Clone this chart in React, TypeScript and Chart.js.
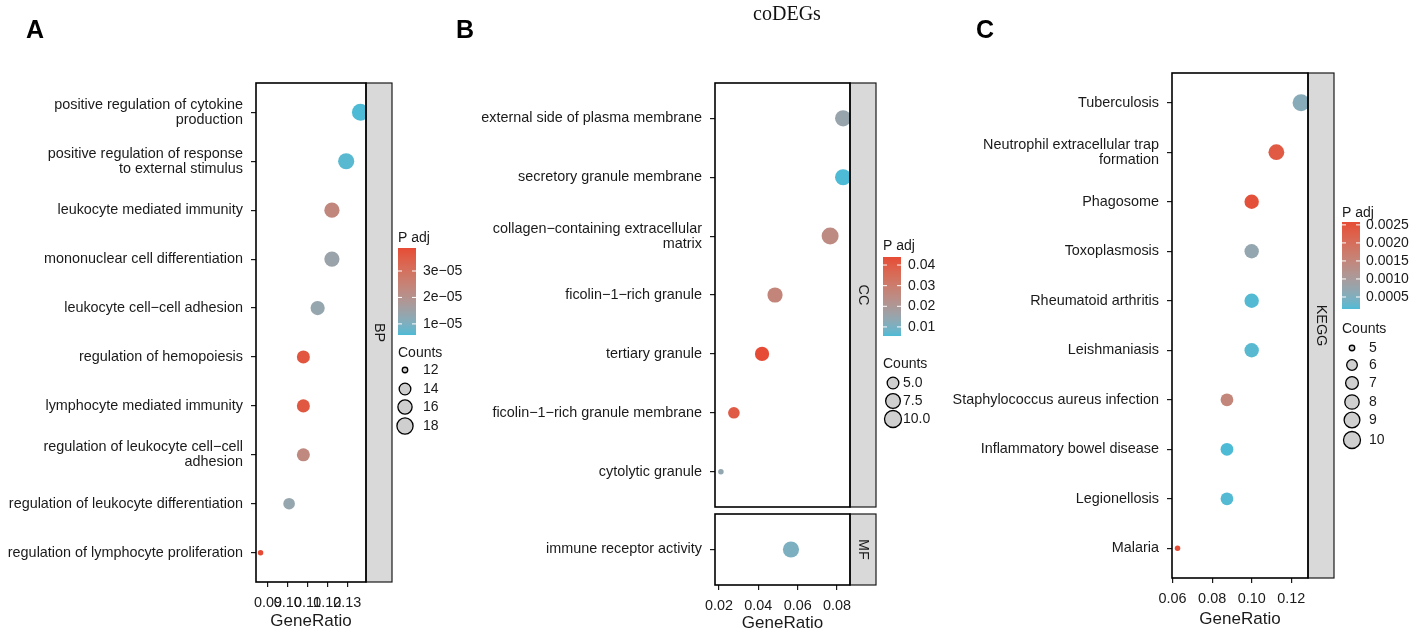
import React, { useEffect, useRef } from "react";
import { Chart, registerables } from "chart.js";
Chart.register(...registerables);

// ---------------- DATA ----------------
const bpTerms = [
  "positive regulation of cytokine\nproduction",
  "positive regulation of response\nto external stimulus",
  "leukocyte mediated immunity",
  "mononuclear cell differentiation",
  "leukocyte cell−cell adhesion",
  "regulation of hemopoiesis",
  "lymphocyte mediated immunity",
  "regulation of leukocyte cell−cell\nadhesion",
  "regulation of leukocyte differentiation",
  "regulation of lymphocyte proliferation",
];
const bpGeneRatio = [0.1367, 0.1295, 0.1223, 0.1223, 0.1151, 0.1079, 0.1079, 0.1079, 0.1007, 0.0863];
const bpCounts = [19, 18, 17, 17, 16, 15, 15, 15, 14, 12];
const bpPadj = [5.8e-6, 6.6e-6, 2.35e-5, 1.45e-5, 1.35e-5, 3.65e-5, 3.6e-5, 2.3e-5, 1.35e-5, 3.87e-5];
const bpXTicks = [0.09, 0.1, 0.11, 0.12, 0.13];
const bpPadjBreaks = [1e-5, 2e-5, 3e-5];
const bpPadjLabels = ["1e−05", "2e−05", "3e−05"];
const bpCountBreaks = [12, 14, 16, 18];
const bpCountLabels = ["12", "14", "16", "18"];

const ccTerms = [
  "external side of plasma membrane",
  "secretory granule membrane",
  "collagen−containing extracellular\nmatrix",
  "ficolin−1−rich granule",
  "tertiary granule",
  "ficolin−1−rich granule membrane",
  "cytolytic granule",
];
const ccGeneRatio = [0.0831, 0.0831, 0.0765, 0.0485, 0.0419, 0.0276, 0.021];
const ccCounts = [9, 9, 10, 8, 7, 5, 3];
const ccPadj = [0.015, 0.0056, 0.025, 0.027, 0.0439, 0.04, 0.014];
const mfTerms = ["immune receptor activity"];
const mfGeneRatio = [0.0566];
const mfCounts = [9];
const mfPadj = [0.0105];
const goXTicks = [0.02, 0.04, 0.06, 0.08];
const goPadjBreaks = [0.01, 0.02, 0.03, 0.04];
const goPadjLabels = ["0.01", "0.02", "0.03", "0.04"];
const goCountBreaks = [5, 7.5, 10];
const goCountLabels = ["5.0", "7.5", "10.0"];

const keggTerms = [
  "Tuberculosis",
  "Neutrophil extracellular trap\nformation",
  "Phagosome",
  "Toxoplasmosis",
  "Rheumatoid arthritis",
  "Leishmaniasis",
  "Staphylococcus aureus infection",
  "Inflammatory bowel disease",
  "Legionellosis",
  "Malaria",
];
const keggGeneRatio = [0.125, 0.1125, 0.1, 0.1, 0.1, 0.1, 0.0875, 0.0875, 0.0875, 0.0625];
const keggCounts = [10, 9, 8, 8, 8, 8, 7, 7, 7, 5];
const keggPadj = [0.00058, 0.00235, 0.0025, 0.00072, 0.0002, 0.00022, 0.0015, 0.000167, 0.0002, 0.00258];
const keggXTicks = [0.06, 0.08, 0.1, 0.12];
const keggPadjBreaks = [0.0005, 0.001, 0.0015, 0.002, 0.0025];
const keggPadjLabels = ["0.0005", "0.0010", "0.0015", "0.0020", "0.0025"];
const keggCountBreaks = [5, 6, 7, 8, 9, 10];
const keggCountLabels = ["5", "6", "7", "8", "9", "10"];

// ---------------- HELPERS ----------------
const W = 1417;
const H = 634;
const FONT = "'Liberation Sans', Arial, Helvetica, sans-serif";
const TEXT = "#1a1a1a";
const LOW = "#4DBBD5";
const HIGH = "#E64B35";
const AXIS_FS = 14.4;
const LEG_FS = 14;

function hexToLab(hex: string): number[] {
  const v = [1, 3, 5].map((i) => parseInt(hex.slice(i, i + 2), 16) / 255);
  const lin = v.map((c) => (c <= 0.04045 ? c / 12.92 : Math.pow((c + 0.055) / 1.055, 2.4)));
  const [r, g, b] = lin;
  const x = (0.4124564 * r + 0.3575761 * g + 0.1804375 * b) / 0.95047;
  const y = 0.2126729 * r + 0.7151522 * g + 0.072175 * b;
  const z = (0.0193339 * r + 0.119192 * g + 0.9503041 * b) / 1.08883;
  const f = (t: number) => (t > 0.008856 ? Math.cbrt(t) : 7.787 * t + 16 / 116);
  const fx = f(x), fy = f(y), fz = f(z);
  return [116 * fy - 16, 500 * (fx - fy), 200 * (fy - fz)];
}
function labToRgb(L: number, a: number, bb: number): string {
  const fy = (L + 16) / 116;
  const fx = fy + a / 500;
  const fz = fy - bb / 200;
  const inv = (t: number) => (t * t * t > 0.008856 ? t * t * t : (t - 16 / 116) / 7.787);
  const x = inv(fx) * 0.95047, y = inv(fy), z = inv(fz) * 1.08883;
  const r = 3.2404542 * x - 1.5371385 * y - 0.4985314 * z;
  const g = -0.969266 * x + 1.8760108 * y + 0.041556 * z;
  const b = 0.0556434 * x - 0.2040259 * y + 1.0572252 * z;
  const gam = (c: number) => {
    const v = c <= 0.0031308 ? 12.92 * c : 1.055 * Math.pow(c, 1 / 2.4) - 0.055;
    return Math.round(Math.max(0, Math.min(1, v)) * 255);
  };
  return `rgb(${gam(r)},${gam(g)},${gam(b)})`;
}
const LAB_LOW = hexToLab(LOW);
const LAB_HIGH = hexToLab(HIGH);
function gradColor(t: number): string {
  const u = Math.max(0, Math.min(1, t));
  return labToRgb(
    LAB_LOW[0] + (LAB_HIGH[0] - LAB_LOW[0]) * u,
    LAB_LOW[1] + (LAB_HIGH[1] - LAB_LOW[1]) * u,
    LAB_LOW[2] + (LAB_HIGH[2] - LAB_LOW[2]) * u
  );
}
function radius(c: number, lim: number[]): number {
  const t = Math.max(0, (c - lim[0]) / (lim[1] - lim[0]));
  const size = 1 + 5 * Math.sqrt(t);
  return (2.3 * size + 3.2) / 2;
}

type Legend = {
  x: number;
  titleY: number;
  barTop: number;
  barBottom: number;
  barLabelX: number;
  breaks: number[];
  breakLabels: string[];
  countsY: number;
  keyX: number;
  keyLabelX: number;
  keyYs: number[];
  countBreaks: number[];
  countLabels: string[];
};
type Panel = {
  cats: string[];
  ratio: number[];
  count: number[];
  padj: number[];
  box: { l: number; r: number; t: number; b: number };
  xMin: number;
  xMax: number;
  xTicks: number[];
  showX: boolean;
  xAxisH: number;
  colorLim: number[];
  sizeLim: number[];
  strip: string;
  legend?: Legend;
};

function buildChart(canvas: HTMLCanvasElement, p: Panel): Chart {
  const n = p.cats.length;
  const xh = p.showX ? p.xAxisH : 0;
  const data = p.cats.map((_, i) => ({ x: p.ratio[i], y: i, r: radius(p.count[i], p.sizeLim) }));
  const colors = p.padj.map((v) => gradColor((v - p.colorLim[0]) / (p.colorLim[1] - p.colorLim[0])));
  const decor = {
    id: "decor",
    afterDraw(chart: any) {
      const ctx: CanvasRenderingContext2D = chart.ctx;
      const a = chart.chartArea;
      ctx.save();
      // strip
      const sw = 26;
      ctx.fillStyle = "#D9D9D9";
      ctx.fillRect(a.right, a.top, sw, a.bottom - a.top);
      ctx.strokeStyle = "#1a1a1a";
      ctx.lineWidth = 1.2;
      ctx.strokeRect(a.right, a.top, sw, a.bottom - a.top);
      // panel box
      ctx.lineWidth = 1.6;
      ctx.strokeStyle = "#000";
      ctx.strokeRect(a.left, a.top, a.right - a.left, a.bottom - a.top);
      // strip text
      ctx.save();
      ctx.translate(a.right + sw / 2, (a.top + a.bottom) / 2);
      ctx.rotate(Math.PI / 2);
      ctx.fillStyle = TEXT;
      ctx.font = `${AXIS_FS}px ${FONT}`;
      ctx.textAlign = "center";
      ctx.textBaseline = "middle";
      ctx.fillText(p.strip, 0, 0);
      ctx.restore();
      // legend
      const L = p.legend;
      if (L) {
        ctx.fillStyle = TEXT;
        ctx.font = `${LEG_FS}px ${FONT}`;
        ctx.textAlign = "left";
        ctx.textBaseline = "middle";
        ctx.fillText("P adj", L.x, L.titleY);
        const bw = 18;
        const bh = L.barBottom - L.barTop;
        for (let y = 0; y < bh; y++) {
          ctx.fillStyle = gradColor(1 - (y + 0.5) / bh);
          ctx.fillRect(L.x, L.barTop + y, bw, 1.02);
        }
        ctx.strokeStyle = "#fff";
        ctx.lineWidth = 1;
        L.breaks.forEach((v, i) => {
          const y = L.barBottom - ((v - p.colorLim[0]) / (p.colorLim[1] - p.colorLim[0])) * bh;
          ctx.beginPath();
          ctx.moveTo(L.x, y);
          ctx.lineTo(L.x + 4, y);
          ctx.moveTo(L.x + bw - 4, y);
          ctx.lineTo(L.x + bw, y);
          ctx.stroke();
          ctx.fillStyle = TEXT;
          ctx.fillText(L.breakLabels[i], L.barLabelX, y);
        });
        ctx.fillStyle = TEXT;
        ctx.fillText("Counts", L.x, L.countsY);
        L.countBreaks.forEach((c, i) => {
          const y = L.keyYs[i];
          ctx.beginPath();
          ctx.arc(L.keyX, y, radius(c, p.sizeLim), 0, Math.PI * 2);
          ctx.fillStyle = "#CFCFCF";
          ctx.fill();
          ctx.strokeStyle = "#000";
          ctx.lineWidth = 1.3;
          ctx.stroke();
          ctx.fillStyle = TEXT;
          ctx.fillText(L.countLabels[i], L.keyLabelX, y);
        });
      }
      ctx.restore();
    },
  };
  return new Chart(canvas, {
    type: "bubble",
    data: {
      datasets: [
        {
          data,
          backgroundColor: colors,
          borderWidth: 0,
          hoverRadius: 0,
          clip: 0,
        } as any,
      ],
    },
    options: {
      responsive: false,
      animation: false,
      events: [],
      layout: {
        padding: {
          left: 0,
          right: W - p.box.r,
          top: p.box.t,
          bottom: H - p.box.b - xh,
        },
      },
      plugins: { legend: { display: false }, tooltip: { enabled: false } },
      scales: {
        x: {
          type: "linear",
          display: p.showX,
          min: p.xMin,
          max: p.xMax,
          afterBuildTicks: (s: any) => {
            s.ticks = p.xTicks.map((v) => ({ value: v }));
          },
          afterFit: (s: any) => {
            s.height = xh;
          },
          ticks: {
            autoSkip: false,
            maxRotation: 0,
            padding: 7,
            color: TEXT,
            font: { family: FONT, size: AXIS_FS },
            callback: (v: any) => Number(v).toFixed(2),
          },
          grid: { drawOnChartArea: false, drawTicks: true, tickLength: 5, color: "#1a1a1a", lineWidth: 1.2 },
          border: { display: false },
          title: {
            display: true,
            text: "GeneRatio",
            color: TEXT,
            font: { family: FONT, size: 17 },
            padding: { top: 2, bottom: 0 },
          },
        },
        y: {
          type: "linear",
          reverse: true,
          min: -0.6,
          max: n - 0.4,
          afterBuildTicks: (s: any) => {
            s.ticks = p.cats.map((_, i) => ({ value: i }));
          },
          afterFit: (s: any) => {
            s.width = p.box.l;
          },
          ticks: {
            autoSkip: false,
            padding: 8,
            color: TEXT,
            font: { family: FONT, size: AXIS_FS, lineHeight: 1.05 },
            callback: (v: any) => {
              const t = p.cats[Math.round(Number(v))];
              return t ? t.split("\n") : "";
            },
          },
          grid: { drawOnChartArea: false, drawTicks: true, tickLength: 5, color: "#1a1a1a", lineWidth: 1.2 },
          border: { display: false },
        },
      },
    } as any,
    plugins: [decor as any],
  });
}

function minMax(a: number[]): number[] {
  return [Math.min(...a), Math.max(...a)];
}

export default function App() {
  const r1 = useRef<HTMLCanvasElement>(null);
  const r2 = useRef<HTMLCanvasElement>(null);
  const r3 = useRef<HTMLCanvasElement>(null);
  const r4 = useRef<HTMLCanvasElement>(null);

  useEffect(() => {
    const bpC = minMax(bpPadj);
    const bpS = minMax(bpCounts);
    const goC = minMax([...ccPadj, ...mfPadj]);
    const goS = minMax([...ccCounts, ...mfCounts]);
    const kC = minMax(keggPadj);
    const kS = minMax(keggCounts);

    const panels: Panel[] = [
      {
        cats: bpTerms, ratio: bpGeneRatio, count: bpCounts, padj: bpPadj,
        box: { l: 256, r: 366, t: 83, b: 582 },
        xMin: 0.084, xMax: 0.1395, xTicks: bpXTicks, showX: true, xAxisH: 50,
        colorLim: bpC, sizeLim: bpS, strip: "BP",
        legend: {
          x: 398, titleY: 238, barTop: 248, barBottom: 335, barLabelX: 423,
          breaks: bpPadjBreaks, breakLabels: bpPadjLabels,
          countsY: 353, keyX: 405, keyLabelX: 423, keyYs: [370, 389, 407, 426],
          countBreaks: bpCountBreaks, countLabels: bpCountLabels,
        },
      },
      {
        cats: ccTerms, ratio: ccGeneRatio, count: ccCounts, padj: ccPadj,
        box: { l: 715, r: 850, t: 83, b: 507 },
        xMin: 0.018, xMax: 0.0866, xTicks: goXTicks, showX: false, xAxisH: 0,
        colorLim: goC, sizeLim: goS, strip: "CC",
        legend: {
          x: 883, titleY: 246, barTop: 257, barBottom: 336, barLabelX: 908,
          breaks: goPadjBreaks, breakLabels: goPadjLabels,
          countsY: 364, keyX: 893, keyLabelX: 903, keyYs: [383, 401, 419],
          countBreaks: goCountBreaks, countLabels: goCountLabels,
        },
      },
      {
        cats: mfTerms, ratio: mfGeneRatio, count: mfCounts, padj: mfPadj,
        box: { l: 715, r: 850, t: 514, b: 585 },
        xMin: 0.018, xMax: 0.0866, xTicks: goXTicks, showX: true, xAxisH: 49,
        colorLim: goC, sizeLim: goS, strip: "MF",
      },
      {
        cats: keggTerms, ratio: keggGeneRatio, count: keggCounts, padj: keggPadj,
        box: { l: 1172, r: 1308, t: 73, b: 578 },
        xMin: 0.0597, xMax: 0.1285, xTicks: keggXTicks, showX: true, xAxisH: 52,
        colorLim: kC, sizeLim: kS, strip: "KEGG",
        legend: {
          x: 1342, titleY: 213, barTop: 222, barBottom: 309, barLabelX: 1366,
          breaks: keggPadjBreaks, breakLabels: keggPadjLabels,
          countsY: 329, keyX: 1352, keyLabelX: 1369, keyYs: [348, 365, 383, 402, 420, 440],
          countBreaks: keggCountBreaks, countLabels: keggCountLabels,
        },
      },
    ];
    const refs = [r1, r2, r3, r4];
    const charts = panels.map((p, i) => buildChart(refs[i].current as HTMLCanvasElement, p));
    return () => charts.forEach((c) => c.destroy());
  }, []);

  const cv: React.CSSProperties = { position: "absolute", left: 0, top: 0, width: W, height: H };
  const letter: React.CSSProperties = {
    position: "absolute",
    fontFamily: FONT,
    fontWeight: "bold",
    fontSize: 25,
    color: "#000",
    lineHeight: "25px",
  };
  return (
    <div style={{ position: "absolute", left: 0, top: 0, width: W, height: H, background: "#fff", overflow: "hidden" }}>
      <canvas ref={r1} width={W} height={H} style={cv} />
      <canvas ref={r2} width={W} height={H} style={cv} />
      <canvas ref={r3} width={W} height={H} style={cv} />
      <canvas ref={r4} width={W} height={H} style={cv} />
      <div style={{ ...letter, left: 26, top: 17 }}>A</div>
      <div style={{ ...letter, left: 456, top: 17 }}>B</div>
      <div style={{ ...letter, left: 976, top: 17 }}>C</div>
      <div
        style={{
          position: "absolute",
          left: 687,
          width: 200,
          top: 2,
          textAlign: "center",
          fontFamily: "'Liberation Serif', 'Times New Roman', serif",
          fontSize: 20,
          color: "#111",
          lineHeight: "22px",
        }}
      >
        coDEGs
      </div>
    </div>
  );
}
